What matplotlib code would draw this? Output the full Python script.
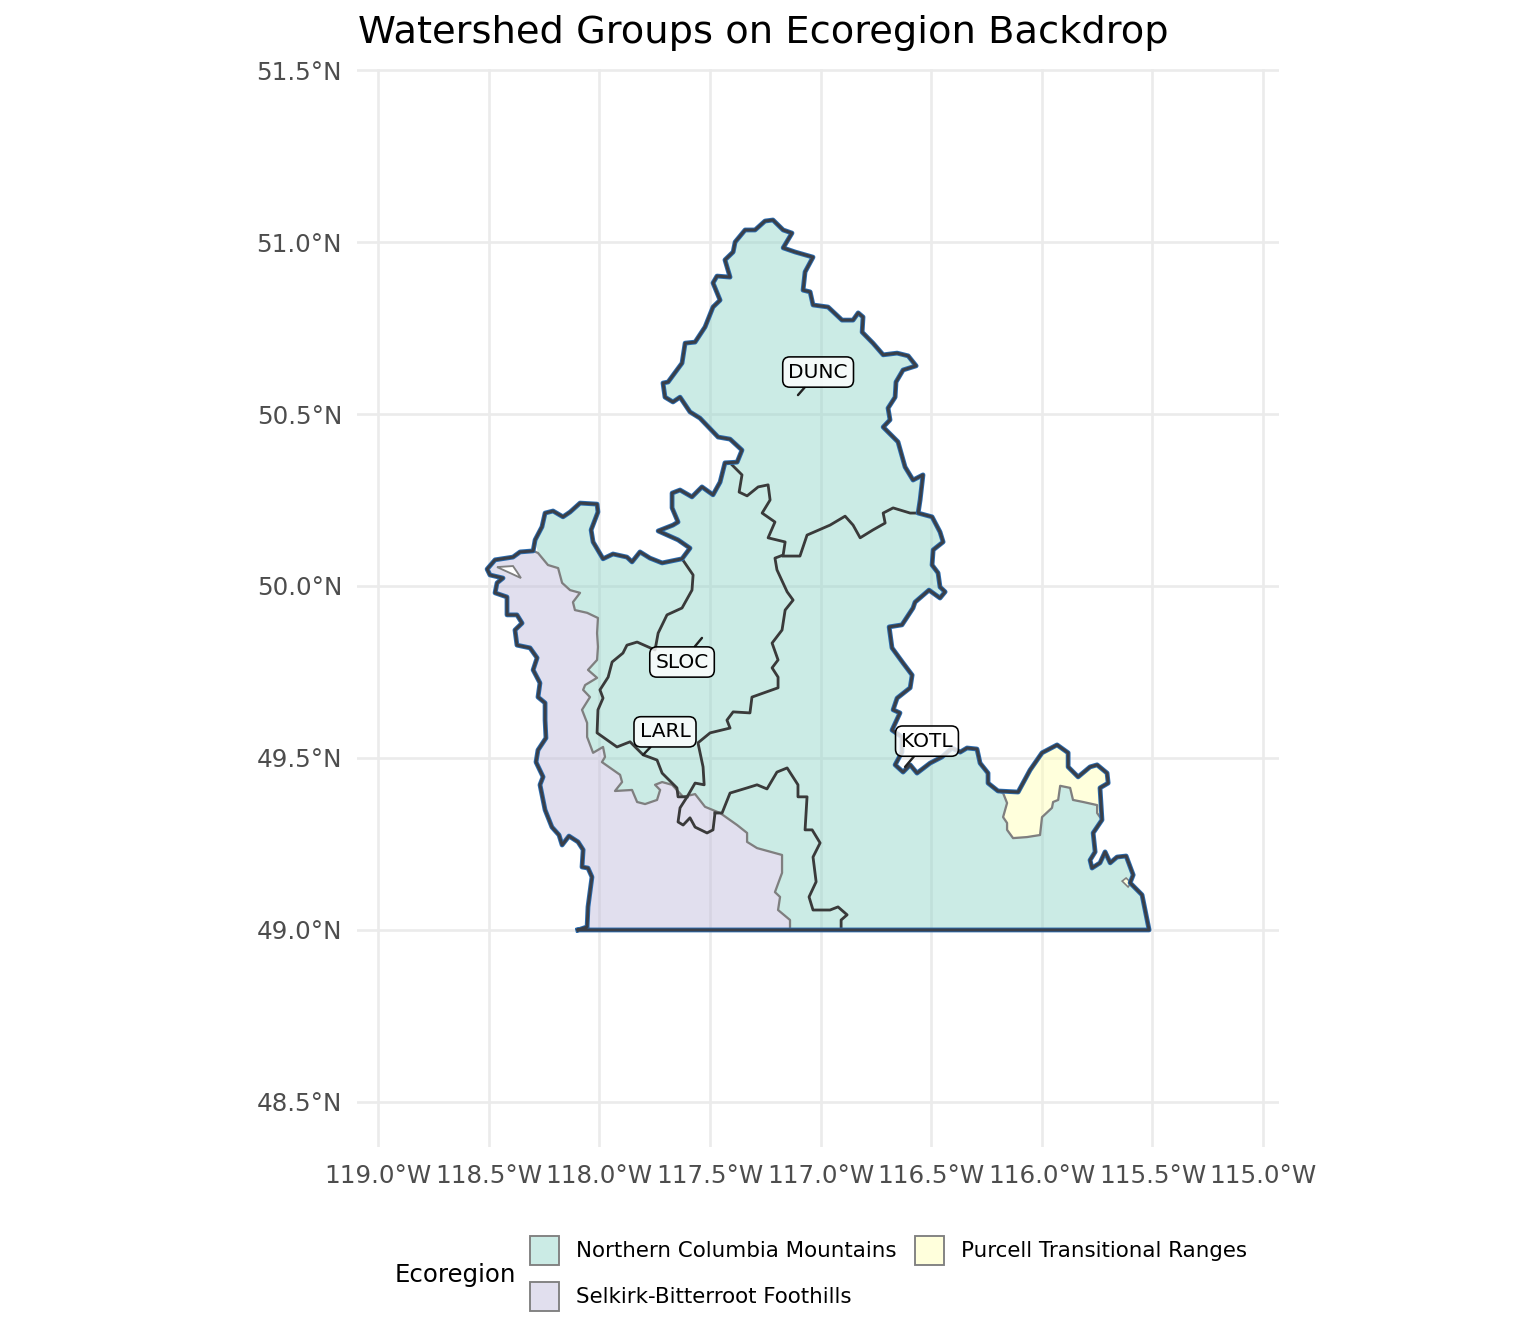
import matplotlib
matplotlib.use("Agg")
import matplotlib.pyplot as plt
from matplotlib.colors import to_rgba
from matplotlib.patches import Patch

# outer boundary of the watershed groups, in pieces so the ecoregions can share them
west_lon = [-118.096,-118.055,-118.051,-118.033,-118.051,-118.078,-118.073,-118.096,-118.137,-118.168,-118.182,-118.214,-118.245,-118.268,-118.254,-118.286,-118.277,-118.241,-118.245,-118.245,-118.277,-118.268,-118.299,-118.281,-118.313,-118.372,-118.381,-118.349,-118.372,-118.417,-118.417,-118.471,-118.462,-118.435,-118.494,-118.507,-118.471,-118.390,-118.358,-118.299]
west_lat = [49.000,49.009,49.067,49.154,49.180,49.183,49.233,49.256,49.273,49.247,49.276,49.299,49.349,49.422,49.445,49.488,49.523,49.558,49.610,49.660,49.677,49.718,49.756,49.791,49.820,49.828,49.872,49.892,49.916,49.916,49.968,49.980,50.009,50.023,50.032,50.049,50.076,50.084,50.099,50.102]

north_lon = [-118.290,-118.259,-118.245,-118.209,-118.164,-118.132,-118.087,-118.010,-118.006,-118.037,-118.028,-117.983,-117.938,-117.875,-117.852,-117.816,-117.771,-117.716,-117.626,-117.590,-117.644,-117.734,-117.667,-117.644,-117.671,-117.671,-117.635,-117.581,-117.536,-117.486,-117.454,-117.432,-117.377,-117.355,-117.409,-117.463,-117.545,-117.590,-117.635,-117.667,-117.703,-117.712,-117.689,-117.626,-117.612,-117.567,-117.522,-117.486,-117.454,-117.486,-117.468,-117.409,-117.432,-117.395,-117.386,-117.341,-117.296,-117.251,-117.215,-117.169,-117.129,-117.169,-117.115,-117.034,-117.070,-117.079,-117.047,-117.034,-116.966,-116.903,-116.853,-116.830,-116.808,-116.812,-116.763,-116.717,-116.654,-116.604,-116.568,-116.627,-116.659,-116.663,-116.695,-116.686,-116.717,-116.650,-116.618,-116.582,-116.537,-116.550,-116.559,-116.496,-116.460,-116.446,-116.491,-116.496,-116.469,-116.460,-116.437,-116.460,-116.510,-116.573,-116.582,-116.632,-116.690,-116.677,-116.627,-116.586,-116.595,-116.654,-116.672,-116.641,-116.677,-116.632,-116.632,-116.663,-116.627,-116.595,-116.564,-116.505,-116.451,-116.406,-116.369,-116.338,-116.293,-116.279,-116.243,-116.243,-116.198]
north_lat = [50.134,50.172,50.212,50.218,50.201,50.215,50.241,50.238,50.215,50.163,50.128,50.079,50.093,50.084,50.070,50.099,50.081,50.067,50.079,50.110,50.134,50.160,50.177,50.186,50.227,50.270,50.279,50.259,50.288,50.265,50.302,50.358,50.360,50.395,50.427,50.433,50.488,50.506,50.549,50.535,50.549,50.590,50.593,50.648,50.706,50.709,50.753,50.811,50.831,50.881,50.901,50.898,50.948,50.971,51.000,51.035,51.035,51.061,51.064,51.035,51.026,50.983,50.971,50.956,50.913,50.860,50.855,50.817,50.811,50.773,50.773,50.794,50.782,50.738,50.706,50.672,50.677,50.669,50.640,50.628,50.593,50.549,50.517,50.483,50.462,50.419,50.346,50.308,50.323,50.250,50.212,50.201,50.157,50.128,50.105,50.061,50.038,49.997,49.983,49.965,49.988,49.953,49.936,49.887,49.881,49.820,49.776,49.741,49.704,49.674,49.640,49.631,49.581,49.561,49.517,49.480,49.459,49.480,49.456,49.485,49.503,49.529,49.517,49.529,49.526,49.485,49.456,49.427,49.404]

purcell_top_lon = [-116.107,-116.053,-115.999,-115.931,-115.881,-115.881,-115.836,-115.782,-115.750,-115.705,-115.700,-115.737,-115.728]
purcell_top_lat = [49.401,49.465,49.515,49.538,49.515,49.474,49.445,49.474,49.480,49.456,49.427,49.413,49.320]

southeast_lon = [-115.768,-115.759,-115.782,-115.773,-115.737,-115.714,-115.691,-115.660,-115.619,-115.587,-115.601,-115.547,-115.515]
southeast_lat = [49.282,49.227,49.203,49.180,49.195,49.227,49.195,49.212,49.215,49.160,49.137,49.102,49.000]

# ecoregion divides
selkirk_lon = [-118.277,-118.232,-118.186,-118.168,-118.132,-118.087,-118.119,-118.110,-118.055,-118.006,-118.010,-118.006,-118.010,-118.051,-118.010,-118.064,-118.073,-118.042,-118.078,-118.055,-118.055,-118.028,-117.983,-117.974,-117.988,-117.906,-117.897,-117.929,-117.852,-117.829,-117.793,-117.739,-117.725,-117.748,-117.716,-117.671,-117.621,-117.567,-117.522,-117.454,-117.377,-117.332,-117.332,-117.287,-117.174,-117.174,-117.206,-117.183,-117.192,-117.138,-117.138]
selkirk_lat = [50.096,50.061,50.052,50.009,49.988,49.980,49.953,49.930,49.922,49.907,49.863,49.823,49.785,49.756,49.733,49.712,49.698,49.677,49.640,49.602,49.561,49.515,49.532,49.503,49.488,49.451,49.430,49.404,49.407,49.372,49.366,49.378,49.407,49.422,49.430,49.422,49.387,49.395,49.358,49.340,49.305,49.282,49.256,49.238,49.218,49.166,49.110,49.096,49.058,49.029,49.000]

purcell_lon = [-116.175,-116.157,-116.175,-116.157,-116.157,-116.130,-116.067,-116.008,-115.999,-115.954,-115.949,-115.926,-115.917,-115.872,-115.859,-115.813,-115.750,-115.750,-115.728]
purcell_lat = [49.398,49.369,49.328,49.311,49.291,49.267,49.270,49.276,49.328,49.355,49.372,49.378,49.419,49.413,49.378,49.372,49.363,49.340,49.320]

hole_lon = [-118.462,-118.390,-118.372,-118.354,-118.394,-118.435]
hole_lat = [50.055,50.058,50.041,50.023,50.035,50.047]
spot_lon = [-115.637,-115.619,-115.596,-115.610]
spot_lat = [49.142,49.151,49.137,49.125]

# watershed group divides inside the outline
dunc_west_lon = [-117.400,-117.355,-117.368,-117.332,-117.282,-117.237,-117.228,-117.264,-117.206,-117.237,-117.160,-117.169,-117.206,-117.197,-117.151,-117.124,-117.160,-117.174,-117.219,-117.192,-117.219,-117.192,-117.192,-117.310,-117.319,-117.395,-117.423,-117.409,-117.499,-117.554,-117.531,-117.526,-117.567,-117.603,-117.635,-117.644,-117.621,-117.590,-117.567,-117.513,-117.486,-117.477]
dunc_west_lat = [50.352,50.323,50.273,50.262,50.288,50.294,50.250,50.212,50.186,50.140,50.128,50.090,50.081,50.047,49.983,49.959,49.930,49.872,49.834,49.785,49.762,49.735,49.704,49.677,49.631,49.634,49.610,49.587,49.573,49.544,49.474,49.422,49.427,49.387,49.355,49.314,49.305,49.326,49.299,49.282,49.291,49.340]

kotl_north_lon = [-117.169,-117.093,-117.061,-116.957,-116.889,-116.853,-116.821,-116.763,-116.708,-116.717,-116.672,-116.595,-116.559]
kotl_north_lat = [50.087,50.087,50.148,50.177,50.203,50.177,50.140,50.163,50.183,50.212,50.227,50.212,50.212]

kotl_west_lon = [-117.477,-117.445,-117.409,-117.332,-117.287,-117.242,-117.197,-117.151,-117.102,-117.102,-117.061,-117.070,-117.038,-117.002,-117.034,-117.020,-117.052,-117.034,-116.957,-116.921,-116.880,-116.907,-116.907]
kotl_west_lat = [49.340,49.340,49.398,49.413,49.422,49.410,49.459,49.471,49.422,49.387,49.387,49.291,49.291,49.253,49.212,49.140,49.096,49.058,49.058,49.067,49.044,49.029,49.000]

sloc_west_lon = [-117.626,-117.576,-117.581,-117.626,-117.694,-117.734,-117.748,-117.829,-117.875,-117.893,-117.942,-117.960,-117.997,-117.983,-118.006,-118.010,-117.920,-117.861,-117.802,-117.739,-117.716,-117.649,-117.644,-117.603]
sloc_west_lat = [50.079,50.032,49.988,49.936,49.916,49.863,49.814,49.837,49.828,49.805,49.779,49.735,49.698,49.674,49.640,49.573,49.532,49.547,49.509,49.494,49.456,49.413,49.387,49.387]

# labels: name, point on the map, label centre
label_names = ["DUNC", "SLOC", "LARL", "KOTL"]
label_lon = [-117.102, -117.536, -117.802, -116.618]
label_lat = [50.555, 49.849, 49.509, 49.474]
text_lon = [-117.011, -117.626, -117.703, -116.519]
text_lat = [50.622, 49.779, 49.576, 49.549]

lon_ticks = [-119.0, -118.5, -118.0, -117.5, -117.0, -116.5, -116.0, -115.5, -115.0]
lat_ticks = [48.5, 49.0, 49.5, 50.0, 50.5, 51.0, 51.5]

ecoregions = ["Northern Columbia Mountains", "Selkirk-Bitterroot Foothills", "Purcell Transitional Ranges"]
colors = ["#8DD3C7", "#BEBADA", "#FFFFB3"]
fill_alpha = 0.45

fig = plt.figure(figsize=(8, 7), dpi=192)
ax = fig.add_axes([357/1536, 197/1344, 922/1536, 1078/1344])
ax.set_xlim(-119.095, -114.928)
ax.set_ylim(48.369, 51.503)

ax.set_axisbelow(True)
ax.grid(True, color="#EBEBEB", linewidth=1.0)
for s in ax.spines.values():
    s.set_visible(False)
ax.set_xticks(lon_ticks)
ax.set_yticks(lat_ticks)
ax.set_xticklabels(["%.1f°W" % abs(v) for v in lon_ticks])
ax.set_yticklabels(["%.1f°N" % v for v in lat_ticks])
ax.tick_params(length=0, labelsize=9.25, labelcolor="#4D4D4D", pad=5.6)
ax.tick_params(axis="x", pad=6.3)

# ecoregion fills
north_poly_lon = north_lon + purcell_lon + southeast_lon + selkirk_lon[::-1]
north_poly_lat = north_lat + purcell_lat + southeast_lat + selkirk_lat[::-1]
ax.fill(north_poly_lon, north_poly_lat, color=colors[0], alpha=fill_alpha, lw=0)

selkirk_poly_lon = west_lon + selkirk_lon
selkirk_poly_lat = west_lat + selkirk_lat
ax.fill(selkirk_poly_lon, selkirk_poly_lat, color=colors[1], alpha=fill_alpha, lw=0)

purcell_poly_lon = [north_lon[-1]] + purcell_top_lon + purcell_lon[::-1]
purcell_poly_lat = [north_lat[-1]] + purcell_top_lat + purcell_lat[::-1]
ax.fill(purcell_poly_lon, purcell_poly_lat, color=colors[2], alpha=fill_alpha, lw=0)

ax.fill(hole_lon, hole_lat, facecolor="white", edgecolor="#7F7F7F", lw=0.7)
ax.fill(spot_lon, spot_lat, facecolor="#FFFFE1", edgecolor="#7F7F7F", lw=0.6)

# ecoregion borders
ax.plot([west_lon[-1]] + selkirk_lon, [west_lat[-1]] + selkirk_lat, color="#7F7F7F", lw=0.85, solid_joinstyle="round")
ax.plot([north_lon[-1]] + purcell_lon, [north_lat[-1]] + purcell_lat, color="#7F7F7F", lw=0.85, solid_joinstyle="round")

# watershed groups
for xs, ys in [(dunc_west_lon, dunc_west_lat), (kotl_north_lon, kotl_north_lat),
               (kotl_west_lon, kotl_west_lat), (sloc_west_lon, sloc_west_lat)]:
    ax.plot(xs, ys, color="#3A3A3A", lw=1.05, solid_joinstyle="round")

outer_lon = west_lon + north_lon + purcell_top_lon + southeast_lon + [west_lon[0]]
outer_lat = west_lat + north_lat + purcell_top_lat + southeast_lat + [west_lat[0]]
ax.plot(outer_lon, outer_lat, color="#2B6CB0", lw=1.8, solid_joinstyle="round")
ax.plot(outer_lon, outer_lat, color="#3A3F48", lw=1.1, solid_joinstyle="round")

for i, name in enumerate(label_names):
    ax.annotate(name, xy=(label_lon[i], label_lat[i]), xytext=(text_lon[i], text_lat[i]),
                ha="center", va="center", fontsize=7.55, color="black",
                bbox=dict(boxstyle="round,pad=0.28,rounding_size=0.35", fc=(1, 1, 1, 0.8), ec="black", lw=0.6),
                arrowprops=dict(arrowstyle="-", color="#222222", lw=0.9, shrinkA=0, shrinkB=0))

fig.text(358/1536, 1 - 33/1344, "Watershed Groups on Ecoregion Backdrop", fontsize=14.38, ha="left", va="center")

handles = [Patch(facecolor=to_rgba(c, fill_alpha), edgecolor="#7F7F7F", lw=0.7) for c in colors]
leg = fig.legend(handles, ecoregions, ncol=2, loc="lower left",
                 bbox_to_anchor=(530/1536, 33/1344), frameon=False, borderpad=0, borderaxespad=0,
                 fontsize=8.0, handlelength=1.36, handleheight=1.715, handletextpad=0.8,
                 labelspacing=0.8, columnspacing=0.84)
fig.text(395/1536, 1 - 1275/1344, "Ecoregion", fontsize=9.16, ha="left", va="center")

fig.savefig("out.png", dpi=192)
